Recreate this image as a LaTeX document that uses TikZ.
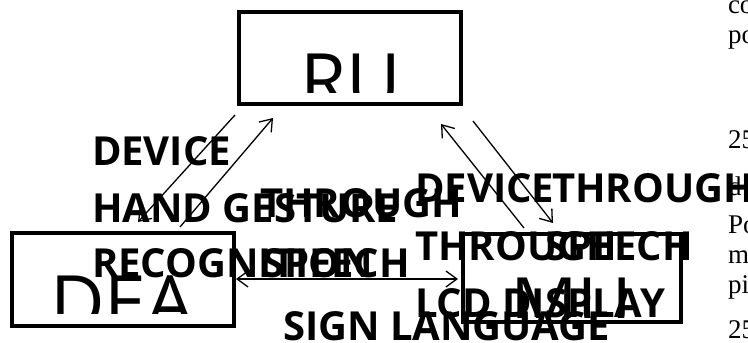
\documentclass[tikz,border=0pt]{standalone}
\usepackage{fontspec}
\usetikzlibrary{arrows.meta}
\newfontfamily\osans{Open Sans}
\newfontfamily\tserif{Liberation Serif}
\begin{document}
\begin{tikzpicture}[x=1pt,y=-1pt,
  box/.style={draw, line width=4pt, rectangle, inner sep=0pt, outer sep=0pt},
  lbl/.style={anchor=base west, inner sep=0pt, outer sep=0pt, font=\osans\bfseries\fontsize{40}{44}\selectfont},
  big/.style={anchor=base west, inner sep=0pt, outer sep=0pt, font=\osans\fontsize{75}{80}\selectfont},
  side/.style={anchor=base west, inner sep=0pt, outer sep=0pt, font=\tserif\fontsize{27}{30}\selectfont},
  conn/.style={line width=1.3pt, -{Straight Barb[length=11pt,width=16pt,line width=1.3pt]}},
  conn2/.style={line width=1.3pt, {Straight Barb[length=11pt,width=16pt,line width=1.3pt]}-{Straight Barb[length=11pt,width=16pt,line width=1.3pt]}}]
\clip (0,0) rectangle (748,343);
% boxes
\node[box, minimum width=222pt, minimum height=92pt] (ru) at (350,58) {};
\node[box, minimum width=222pt, minimum height=93pt] (dea) at (123,279.5) {};
\node[box, minimum width=218pt, minimum height=88pt] (mu) at (572,278) {};
% clipped big texts
\begin{scope}
\clip (237,10) rectangle (463,92);
\node[big] (rut) at (300,107) {RU};
\end{scope}
\begin{scope}
\clip (10,231) rectangle (236,313);
\node[big] (deat) at (50,329) {DEA};
\end{scope}
\begin{scope}
\clip (461,232) rectangle (683,317);
\node[big] (mut) at (510,331) {MU};
\end{scope}
% connectors
\coordinate (a1s) at (235,115); \coordinate (a1e) at (138,222);
\coordinate (a2s) at (180,227); \coordinate (a2e) at (273,118);
\coordinate (a3s) at (524,228); \coordinate (a3e) at (441,124);
\coordinate (a4s) at (473,121); \coordinate (a4e) at (553,223);
\coordinate (a5s) at (236,279); \coordinate (a5e) at (458,279);
\draw[conn] (a1s) -- (a1e);
\draw[conn] (a2s) -- (a2e);
\draw[conn] (a3s) -- (a3e);
\draw[conn] (a4s) -- (a4e);
\draw[conn2] (a5s) -- (a5e);
% labels
\node[lbl] (l1) at (92,165) {DEVICE};
\node[lbl] (l2) at (92,222) {HAND GESTURE};
\node[lbl] (l3) at (92,277) {RECOGNITION};
\node[lbl] (l4) at (260,217) {THROUGH};
\node[lbl] (l5) at (262,277) {SPEECH};
\node[lbl] (l6) at (415,202) {DEVICE};
\node[lbl] (l7) at (552,202) {THROUGH};
\node[lbl] (l8) at (415,260) {THROUGH};
\node[lbl] (l9) at (545,260) {SPEECH};
\node[lbl] (l10) at (415,317) {LCD DISPLAY};
\node[lbl] (l11) at (283,340) {SIGN LANGUAGE};
% side text
\node[side] (s1) at (728,13) {co};
\node[side] (s2) at (728,43) {po};
\node[side] (s3) at (728,148) {25};
\node[side] (s4) at (728,195) {d};
\node[side] (s5) at (728,233) {Po};
\node[side] (s6) at (728,263) {m};
\node[side] (s7) at (728,293) {pi};
\node[side] (s8) at (728,338) {25};
\end{tikzpicture}
\end{document}
